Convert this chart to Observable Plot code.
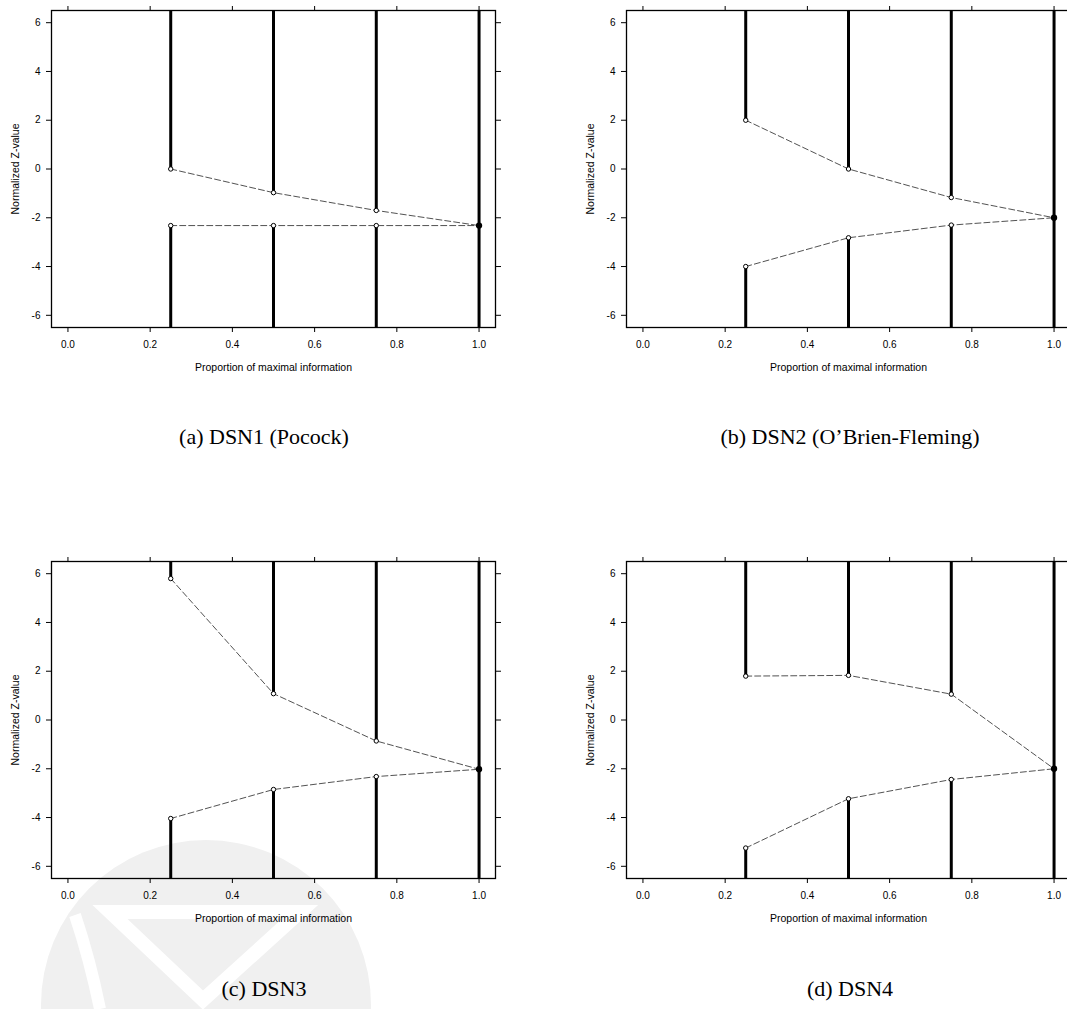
<!DOCTYPE html>
<html>
<head>
<meta charset="utf-8">
<script src="https://cdn.jsdelivr.net/npm/d3@7"></script>
<script src="https://cdn.jsdelivr.net/npm/@observablehq/plot@0.6"></script>
<style>
  html, body { margin: 0; padding: 0; background: #fff; }
  #page { position: relative; width: 1067px; height: 1009px; overflow: hidden; background: #fff; }
  .panel { position: absolute; width: 515px; height: 380px; }
  .panel svg { max-width: none !important; width: 515px; height: 380px; }
  .caption { position: absolute; font-family: "Liberation Serif", "DejaVu Serif", serif; font-size: 22px; color: #000; white-space: nowrap; transform: translate(-50%, -50%); }
  #wm { position: absolute; left: 0; top: 0; }
</style>
</head>
<body>
<div id="page">
  <svg id="wm" width="1067" height="1009">
    <circle cx="206" cy="1005" r="165" fill="#f0f0f0"></circle>
    <polygon points="110,912 300,912 203,1000" fill="none" stroke="#ffffff" stroke-width="14" stroke-linejoin="miter"></polygon>
    <path d="M 75 915 Q 90 960 100 1009" fill="none" stroke="#ffffff" stroke-width="12"></path>
  </svg>
</div>
<script>
// ---- data ----
const infoFractions = [0.25, 0.5, 0.75, 1.0];

const dsn1Upper = [0.0, -0.97, -1.70, -2.32];
const dsn1Lower = [-2.32, -2.32, -2.32, -2.32];

const dsn2Upper = [2.0, 0.0, -1.17, -2.0];
const dsn2Lower = [-4.0, -2.82, -2.30, -2.0];

const dsn3Upper = [5.80, 1.08, -0.86, -2.02];
const dsn3Lower = [-4.04, -2.85, -2.32, -2.02];

const dsn4Upper = [1.80, 1.83, 1.06, -2.0];
const dsn4Lower = [-5.25, -3.23, -2.44, -2.0];

const xTicks = [0, 0.2, 0.4, 0.6, 0.8, 1.0];
const yTicks = [-6, -4, -2, 0, 2, 4, 6];
const xDomain = [-0.04, 1.04];
const yDomain = [-6.5, 6.5];

const xTitle = "Proportion of maximal information";
const yTitle = "Normalized Z-value";

const captions = [
  "(a) DSN1 (Pocock)",
  "(b) DSN2 (O\u2019Brien-Fleming)",
  "(c) DSN3",
  "(d) DSN4"
];

// ---- drawing ----
function panel(upper, lower) {
  const rows = infoFractions.map((f, i) => ({f, upper: upper[i], lower: lower[i]}));
  const dash = {stroke: "#333", strokeWidth: 0.85, strokeDasharray: "6,3"};
  return Plot.plot({
    width: 515,
    height: 380,
    marginLeft: 51,
    marginRight: 20,
    marginTop: 10,
    marginBottom: 53,
    x: {domain: xDomain},
    y: {domain: yDomain},
    style: {fontFamily: "'Liberation Sans', Arial, sans-serif", fontSize: "10px", background: "transparent", color: "#000", overflow: "visible"},
    marks: [
      Plot.ruleX(rows, {x: "f", y1: "upper", y2: yDomain[1], stroke: "black", strokeWidth: 3}),
      Plot.ruleX(rows, {x: "f", y1: yDomain[0], y2: "lower", stroke: "black", strokeWidth: 3}),
      Plot.line(rows, {x: "f", y: "upper", ...dash}),
      Plot.line(rows, {x: "f", y: "lower", ...dash}),
      Plot.dot(rows, {filter: d => d.f < 1, x: "f", y: "upper", r: 2.2, stroke: "black", strokeWidth: 1, fill: "white"}),
      Plot.dot(rows, {filter: d => d.f < 1, x: "f", y: "lower", r: 2.2, stroke: "black", strokeWidth: 1, fill: "white"}),
      Plot.dot(rows, {filter: d => d.f === 1, x: "f", y: "upper", r: 2.4, stroke: "black", fill: "black"}),
      Plot.frame({stroke: "black", strokeWidth: 1.3}),
      Plot.axisX({ticks: xTicks, tickSize: 5, tickPadding: 8, tickFormat: d => d.toFixed(1), label: null}),
      Plot.axisX({anchor: "top", ticks: xTicks, tickSize: 5, tickFormat: () => "", label: null}),
      Plot.axisY({ticks: yTicks, tickSize: 5, tickPadding: 6, tickFormat: d => String(d), label: null}),
      Plot.axisY({anchor: "right", ticks: yTicks, tickSize: 5, tickFormat: () => "", label: null}),
      Plot.text([xTitle], {frameAnchor: "bottom", lineAnchor: "middle", textAnchor: "middle", dy: 40, fontSize: 10.5}),
      Plot.text([yTitle], {frameAnchor: "left", lineAnchor: "middle", textAnchor: "middle", rotate: -90, dx: -36, fontSize: 10.5})
    ]
  });
}

const page = document.getElementById("page");
const specs = [
  {up: dsn1Upper, lo: dsn1Lower, left: 0, top: 0, cx: 264, cy: 437},
  {up: dsn2Upper, lo: dsn2Lower, left: 575, top: 0, cx: 850, cy: 437},
  {up: dsn3Upper, lo: dsn3Lower, left: 0, top: 551, cx: 264, cy: 989},
  {up: dsn4Upper, lo: dsn4Lower, left: 575, top: 551, cx: 850, cy: 989}
];
specs.forEach((s, i) => {
  const wrap = document.createElement("div");
  wrap.className = "panel";
  wrap.style.left = s.left + "px";
  wrap.style.top = s.top + "px";
  wrap.appendChild(panel(s.up, s.lo));
  page.appendChild(wrap);
  const cap = document.createElement("div");
  cap.className = "caption";
  cap.style.left = s.cx + "px";
  cap.style.top = s.cy + "px";
  cap.textContent = captions[i];
  page.appendChild(cap);
});
</script>
</body>
</html>
